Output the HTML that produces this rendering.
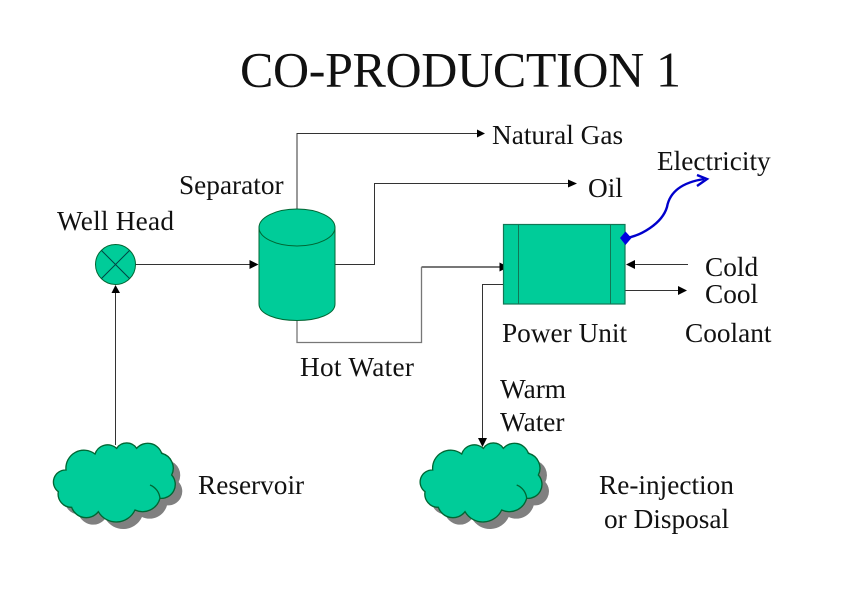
<!DOCTYPE html>
<html>
<head>
<meta charset="utf-8">
<style>
html,body{margin:0;padding:0;background:#fff;}
svg{display:block;}
text{font-family:"Liberation Serif",serif;fill:#111;font-size:27.3px;}
</style>
</head>
<body>
<svg width="857" height="596" viewBox="0 0 857 596" xmlns="http://www.w3.org/2000/svg">
<defs>
<path id="cloud" d="M78 120 A54 54 0 0 1 165 72 A40 40 0 0 1 230 55 A36 36 0 0 1 290 55 A44 44 0 0 1 365 70 A46 46 0 0 1 395 135 A42 42 0 0 1 360 205 A54 54 0 0 1 285 240 A62 62 0 0 1 175 245 A46 46 0 0 1 95 232 A40 40 0 0 1 55 185 A36 36 0 0 1 78 120 Z"/>
</defs>

<text x="240" y="86.500" textLength="441" style="font-size:50px">CO-PRODUCTION 1</text>

<!-- connectors -->
<g fill="none" stroke="#333" stroke-width="1">
<path d="M297 210V133.500H477"/>
<path d="M335 264.500H374.500V183.500H568"/>
<path d="M135 264.500H250"/>
<path d="M115.500 445V293"/>
<path d="M688 264.500H634"/>
<path d="M625 290.500H678"/>
<path d="M503 284.500H482.500V438"/>
</g>
<path d="M297 320V342.500H421.500V267" fill="none" stroke="#777" stroke-width="1.300"/>
<path d="M421.500 267H500" fill="none" stroke="#777" stroke-width="2"/>

<!-- arrowheads -->
<g fill="#000">
<polygon points="485,133.500 477,129.500 477,137.500"/>
<polygon points="577,183.500 568,179.500 568,187.500"/>
<polygon points="258.500,264.500 249.500,260 249.500,269"/>
<polygon points="115.500,285 111.500,293 120,293"/>
<polygon points="508.500,267 499.500,262.500 499.500,271.500"/>
<polygon points="626,264.500 635,260 635,269"/>
<polygon points="687,290.500 678,286 678,295"/>
</g>

<!-- well head -->
<circle cx="115.500" cy="264.500" r="20" fill="#00CC99" stroke="#063" stroke-width="1"/>
<path d="M101.500 250.500L129.500 278.500M129.500 250.500L101.500 278.500" stroke="#044" stroke-width="1" fill="none"/>

<!-- separator cylinder -->
<path d="M259 227V304C259 314 276 320.500 297 320.500C318 320.500 335 314 335 304V227Z" fill="#00CC99" stroke="#063" stroke-width="1"/>
<ellipse cx="297" cy="227.500" rx="38" ry="18.500" fill="#00CC99" stroke="#063" stroke-width="1"/>

<!-- power unit -->
<rect x="503.500" y="224.500" width="121.500" height="79.500" fill="#00CC99" stroke="#175" stroke-width="1.200"/>
<path d="M518.500 224.500V304M610.500 224.500V304" stroke="#175" stroke-width="1" fill="none"/>

<!-- electricity -->
<path d="M626 238C640 236 662 224 667 207C670 190 685 182 704 179" fill="none" stroke="#0000CC" stroke-width="2.400"/>
<path d="M697 175L707 179L697 186" fill="none" stroke="#0000CC" stroke-width="2.400"/>
<polygon points="625.500,231.500 631.500,238 625.500,245 620,238" fill="#0000E0"/>

<!-- clouds -->
<g transform="translate(40 430) scale(.3333)">
<use href="#cloud" transform="translate(21 21)" fill="#808080"/>
<use href="#cloud" fill="#00CC99" stroke="#063" stroke-width="4"/>
<path d="M330 165C348 172 358 188 360 205" fill="none" stroke="#063" stroke-width="4"/>
</g>
<g transform="translate(406.700 430) scale(.3333)">
<use href="#cloud" transform="translate(21 21)" fill="#808080"/>
<use href="#cloud" fill="#00CC99" stroke="#063" stroke-width="4"/>
<path d="M330 165C348 172 358 188 360 205" fill="none" stroke="#063" stroke-width="4"/>
</g>
<polygon points="482.500,447 478,438 487,438" fill="#000"/>

<!-- labels -->
<text x="492" y="144">Natural Gas</text>
<text x="588" y="197">Oil</text>
<text x="657" y="170">Electricity</text>
<text x="179" y="194">Separator</text>
<text x="57" y="230" textLength="117">Well Head</text>
<text x="705" y="276">Cold</text>
<text x="705" y="303">Cool</text>
<text x="502" y="342">Power Unit</text>
<text x="685" y="342">Coolant</text>
<text x="300" y="376" textLength="114">Hot Water</text>
<text x="500" y="398">Warm</text>
<text x="500" y="431">Water</text>
<text x="198" y="494">Reservoir</text>
<text x="599" y="494">Re-injection</text>
<text x="604" y="528">or Disposal</text>
</svg>
</body>
</html>
